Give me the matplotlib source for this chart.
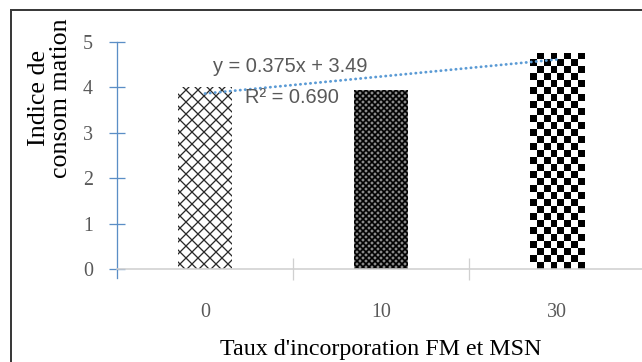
import numpy as np
import matplotlib
matplotlib.use("Agg")
import matplotlib.pyplot as plt
from matplotlib.lines import Line2D

# ---- data ----
categories = ["0", "10", "30"]
values = [4.01, 3.95, 4.76]
y_ticks = [0, 1, 2, 3, 4, 5]
eq_text = "y = 0.375x + 3.49"
r2_text = "R² = 0.690"
x_label = "Taux d'incorporation FM et MSN"
y_label = "Indice de\nconsom mation"

DPI = 72
W, H = 642, 362
fig = plt.figure(figsize=(W / DPI, H / DPI), dpi=DPI, facecolor="white")

ax_left, ax_bottom_px, ax_w, ax_h = 117, 269, 528, 227
ax = fig.add_axes([ax_left / W, (H - ax_bottom_px) / H, ax_w / W, ax_h / H])

gray = "#595959"
blue = "#5b8ec6"
trend_blue = "#5b9bd5"
serif = ["Liberation Serif", "DejaVu Serif"]

x = np.arange(len(categories))
bar_w = 0.31

# bar 0: open diamond lattice
with plt.rc_context({"hatch.linewidth": 1.3}):
    b0 = ax.bar(x[0], values[0], bar_w, color="white", edgecolor="#2a2a2a",
                linewidth=0, hatch="xx", zorder=2)[0]
# bar 1: dense dark lattice
with plt.rc_context({"hatch.linewidth": 1.7}):
    b1 = ax.bar(x[1], values[1], bar_w, color="#8c8c8c", edgecolor="black",
                linewidth=0, hatch="xxxx", zorder=2)[0]
for b, lw in ((b0, 1.3), (b1, 1.7)):
    if hasattr(b, "set_hatch_linewidth"):
        b.set_hatch_linewidth(lw)
# bar 2: checkerboard
b2 = ax.bar(x[2], values[2], bar_w, color="white", linewidth=0, zorder=2)[0]

ax.set_xlim(-0.5, len(categories) - 0.5)
ax.set_ylim(0, 5)

bb = b2.get_window_extent()
nx = max(1, int(round(bb.width / 7.0)))
ny = max(1, int(round(bb.height / 7.0)))
board = np.add.outer(np.arange(ny), np.arange(nx)) % 2
im = ax.imshow(board, cmap="gray_r", vmin=0, vmax=1, interpolation="nearest",
               extent=(b2.get_x(), b2.get_x() + b2.get_width(), 0, b2.get_height()),
               aspect="auto", zorder=2.5)
im.set_clip_path(b2)
ax.set_xlim(-0.5, len(categories) - 0.5)
ax.set_ylim(0, 5)

# linear trendline (x = 1, 2, 3 as in Excel)
xs = np.arange(1, len(values) + 1)
slope, intercept = np.polyfit(xs, values, 1)
ax.plot(x, slope * xs + intercept, color=trend_blue, linewidth=2.8,
        linestyle=(0, (0.1, 1.7)), dash_capstyle="round", zorder=4)

txt_family = ["Liberation Sans Narrow", "Liberation Sans", "DejaVu Sans"]
ax.text(0.045, 4.45, eq_text, fontsize=20, color=gray, family=txt_family,
        va="center", ha="left", zorder=5)
ax.text(0.227, 3.77, r2_text, fontsize=20, color=gray, family=txt_family,
        va="center", ha="left", zorder=5)

# spines
for s in ("top", "right"):
    ax.spines[s].set_visible(False)
ax.spines["left"].set_color(blue)
ax.spines["left"].set_linewidth(1.3)
ax.spines["left"].set_bounds(-0.2, 5)
ax.spines["bottom"].set_color("#d0d0d0")
ax.spines["bottom"].set_linewidth(1.6)

ax.set_yticks(y_ticks)
ax.set_yticklabels([str(v) for v in y_ticks])
ax.tick_params(axis="y", direction="inout", length=16, width=1.3, color=blue,
               labelsize=20, labelcolor=gray, pad=16)
for lab in ax.get_yticklabels():
    lab.set_family(serif)

ax.set_xticks(x)
ax.set_xticklabels(categories)
ax.tick_params(axis="x", which="major", length=0, labelsize=20,
               labelcolor=gray, pad=34)
for lab in ax.get_xticklabels():
    lab.set_family(serif)
ax.set_xticks(x[:-1] + 0.5, minor=True)
ax.tick_params(axis="x", which="minor", direction="inout", length=22,
               width=1.3, color="#d0d0d0")

ax.set_xlabel(x_label, fontsize=24, family=serif, color="black")
ax.xaxis.set_label_coords(0.5, -(355 - ax_bottom_px) / ax_h)
ax.xaxis.label.set_va("baseline")

ax.set_ylabel(y_label, fontsize=26, family=serif, color="black",
              linespacing=0.95)
ax.yaxis.set_label_coords((50 - ax_left) / ax_w, (ax_bottom_px - 98) / ax_h)
ax.yaxis.label.set_va("center")
ax.yaxis.label.set_ha("center")
ax.yaxis.label.set_multialignment("center")

# outer frame (image border)
fx = 11 / W
fy = 1 - 10 / H
fig.add_artist(Line2D([fx, fx], [0, fy], transform=fig.transFigure,
                      color="#3a3a3a", linewidth=2))
fig.add_artist(Line2D([fx, 1], [fy, fy], transform=fig.transFigure,
                      color="#3a3a3a", linewidth=2))

fig.savefig("out.png", dpi=DPI, facecolor="white")
